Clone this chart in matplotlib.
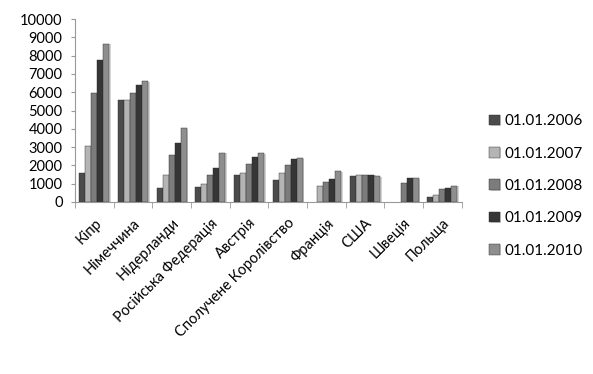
import numpy as np
import matplotlib.pyplot as plt
import matplotlib.patheffects as pe

plt.rcParams['font.family'] = ['Lato', 'DejaVu Sans']

countries = ['Кіпр', 'Німеччина', 'Нідерланди', 'Російська Федерація', 'Австрія',
             'Сполучене Королівство', 'Франція', 'США', 'Швеція', 'Польща']
years = ['01.01.2006', '01.01.2007', '01.01.2008', '01.01.2009', '01.01.2010']

v2006 = [1600, 5550, 750, 800, 1450, 1200, np.nan, 1400, np.nan, 250]
v2007 = [3050, 5600, 1500, 1000, 1600, 1600, 850, 1450, np.nan, 400]
v2008 = [5950, 5950, 2550, 1500, 2100, 2000, 1100, 1450, 1050, 700]
v2009 = [7750, 6400, 3250, 1850, 2450, 2350, 1250, 1500, 1300, 750]
v2010 = [8650, 6600, 4050, 2700, 2650, 2400, 1700, 1400, 1300, 900]

series = [v2006, v2007, v2008, v2009, v2010]
colors = ['#4b4b4b', '#b4b4b4', '#7c7c7c', '#363636', '#8e8e8e']

fig = plt.figure(figsize=(5.93, 3.74), dpi=100)
ax = fig.add_axes([0.1265, 0.46, 0.652, 0.489])

x = np.arange(len(countries))
w = 0.155
for i, (vals, c) in enumerate(zip(series, colors)):
    ax.bar(x + (i - 2) * w, vals, width=w, color=c, edgecolor='#2a2a2a', linewidth=0.3,
           label=years[i],
           path_effects=[pe.SimplePatchShadow(offset=(1.2, -0.5), shadow_rgbFace='#c8c8c8', alpha=0.8),
                         pe.Normal()])

ax.set_xlim(-0.5, len(countries) - 0.5)
ax.set_ylim(0, 10000)
ax.set_yticks(np.arange(0, 10001, 1000))
ax.tick_params(axis='y', labelsize=10.5, length=3, color='#999999', pad=6)

ax.set_xticks(x)
ax.set_xticklabels(countries, rotation=45, ha='right', rotation_mode='anchor', fontsize=10.5)
ax.set_xticks(np.arange(-0.5, len(countries)), minor=True)
ax.tick_params(axis='x', which='major', length=0, pad=10)
ax.tick_params(axis='x', which='minor', length=4, color='#999999')

for s in ['top', 'right']:
    ax.spines[s].set_visible(False)
for s in ['left', 'bottom']:
    ax.spines[s].set_color('#999999')

ax.legend(loc='center left', bbox_to_anchor=(1.035, 0.087), frameon=False, fontsize=11,
          handlelength=0.7, handleheight=0.7, handletextpad=0.3, labelspacing=1.2)

fig.savefig('out.png', dpi=100)
